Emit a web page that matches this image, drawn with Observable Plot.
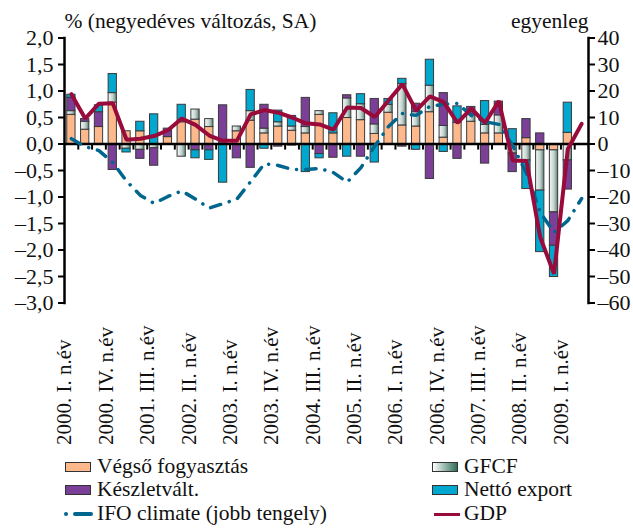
<!DOCTYPE html>
<html>
<head>
<meta charset="utf-8">
<script src="https://cdn.jsdelivr.net/npm/d3@7"></script>
<script src="https://cdn.jsdelivr.net/npm/@observablehq/plot@0.6"></script>
<style>
  body { margin: 0; background: #fff; font-family: "Liberation Serif", serif; }
  #wrap { position: relative; width: 633px; height: 528px; overflow: hidden; }
  .leg { position: absolute; font-size: 21.5px; line-height: 24px; height: 24px; color: #111; white-space: nowrap; }
  .sw { position: absolute; width: 24px; height: 8px; border: 1.5px solid #333; }
</style>
</head>
<body>
<svg width="0" height="0" style="position:absolute">
  <defs>
    <linearGradient id="gfcfGrad" x1="0" x2="1" y1="0" y2="0">
      <stop offset="0" stop-color="#f6f8f7"/>
      <stop offset="0.55" stop-color="#c4d3cf"/>
      <stop offset="1" stop-color="#5b8377"/>
    </linearGradient>
  </defs>
</svg>
<div id="wrap">
  <div id="chart"></div>
  <div id="legend"></div>
</div>
<script>
// ---- data ----
const quarters = [
  "2000. I. n.év","2000. II. n.év","2000. III. n.év","2000. IV. n.év",
  "2001. I. n.év","2001. II. n.év","2001. III. n.év","2001. IV. n.év",
  "2002. I. n.év","2002. II. n.év","2002. III. n.év","2002. IV. n.év",
  "2003. I. n.év","2003. II. n.év","2003. III. n.év","2003. IV. n.év",
  "2004. I. n.év","2004. II. n.év","2004. III. n.év","2004. IV. n.év",
  "2005. I. n.év","2005. II. n.év","2005. III. n.év","2005. IV. n.év",
  "2006. I. n.év","2006. II. n.év","2006. III. n.év","2006. IV. n.év",
  "2007. I. n.év","2007. II. n.év","2007. III. n.év","2007. IV. n.év",
  "2008. I. n.év","2008. II. n.év","2008. III. n.év","2008. IV. n.év",
  "2009. I. n.év","2009. II. n.év"
];
const tickLabels = [
  "2000. I. n.év","2000. IV. n.év","2001. III. n.év","2002. II. n.év",
  "2003. I. n.év","2003. IV. n.év","2004. III. n.év","2005. II. n.év",
  "2006. I. n.év","2006. IV. n.év","2007. III. n.év","2008. II. n.év",
  "2009. I. n.év"
];
const seriesNames = ["Végső fogyasztás", "GFCF", "Készletvált.", "Nettó export"];
const vegso   = [0.55,0.27,0.32,0.78,0.24,0.24,0,0.13,0.41,0.46,0.32,0,0.24,0.44,0.20,0.33,0.25,0.20,0.55,0.20,0.49,0.45,0.19,0.59,0.35,0.33,0.60,0.12,0.40,0.42,0.20,0.20,0,0.11,-0.12,-0.12,0.21,null];
const gfcf    = [0.07,0.15,0,0.18,-0.09,-0.11,-0.08,0,-0.24,0.19,0.15,0,0.09,0.18,0.09,0.08,0.08,0.12,0.07,0,0.37,0.30,0.18,0.15,0.78,0.27,0.50,0.22,0,0.13,0.16,0.34,-0.18,-0.31,-0.76,-1.17,-0.31,null];
const keszlet = [0.25,0.05,0.28,-0.49,0,-0.17,-0.33,0.16,0,-0.12,-0.12,0.73,-0.27,-0.45,0.45,-0.05,-0.03,0.55,-0.19,-0.26,0.06,-0.24,0.48,0,-0.05,0.16,-0.66,0.62,-0.28,0.15,-0.37,0.26,-0.35,0.36,0.20,-0.63,-0.55,null];
const netto   = [0.06,0,0.13,0.36,-0.07,0.18,0.56,0,0.33,-0.15,-0.18,-0.73,0,0.40,-0.09,0.22,0.20,-0.53,-0.08,0.38,-0.24,0.19,-0.35,0.11,0.10,-0.11,0.49,-0.15,0.31,0,0.45,0,0.28,-0.54,-1.16,-0.59,0.57,null];
const gdp     = [0.94,0.48,0.76,0.77,0.08,0.10,0.15,0.26,0.48,0.36,0.16,0.06,0.06,0.56,0.64,0.59,0.50,0.39,0.37,0.27,0.69,0.68,0.51,0.82,1.13,0.63,0.90,0.79,0.40,0.67,0.40,0.81,-0.31,-0.32,-1.76,-2.45,-0.10,0.38];
const ifo     = [2,-1,-2.5,-7,-14,-19.4,-22.4,-19.8,-17.7,-20.8,-24.2,-22.5,-20.8,-14.2,-7.4,-8.1,-9.6,-9.6,-9.2,-10.8,-14.4,-8.9,-0.8,6.6,11.5,10.8,14.2,15,15.3,10.8,8.4,7.4,-0.6,-11,-25.8,-33.4,-28.9,-20.6];
const leftTitle = "% (negyedéves változás, SA)";
const rightTitle = "egyenleg";

// ---- build ----
const seriesArrays = [vegso, gfcf, keszlet, netto];
const seriesColors = ["#fdb98b", "url(#gfcfGrad)", "#7b3f98", "#00a8cf"];
const rows = [];
quarters.forEach((q, i) => {
  seriesArrays.forEach((arr, k) => {
    if (arr[i] != null && arr[i] !== 0) rows.push({q, s: seriesNames[k], v: arr[i]});
  });
});
const lineRows = quarters.map((q, i) => ({q, gdp: gdp[i], ifo: ifo[i] / 20}));

const W = 633, H = 455;
const mL = 64, mR = 45, mT = 37.5, mB = 152.5;
const step = (W - mL - mR) / quarters.length;
const fmtL = d => (d < -1e-9 ? "–" : "") + Math.abs(d).toFixed(1).replace(".", ",");
const fmtR = d => { const v = Math.round(d * 20); return (v < 0 ? "–" : "") + Math.abs(v); };
const yTicks = d3.range(-3, 2.001, 0.5);

const chart = Plot.plot({
  width: W, height: H,
  marginLeft: mL, marginRight: mR, marginTop: mT, marginBottom: mB,
  style: {fontFamily: '"Liberation Serif", serif', fontSize: "21px", color: "#111", background: "white", overflow: "visible"},
  x: {type: "band", domain: quarters, paddingInner: 0.4, paddingOuter: 0.2, round: false, axis: null},
  y: {domain: [-3, 2], axis: null},
  color: {domain: seriesNames, range: seriesColors},
  marks: [
    Plot.barY(rows, Plot.stackY({x: "q", y: "v", fill: "s", order: seriesNames, stroke: "#3a3a3a", strokeWidth: 1})),
    Plot.ruleY([0], {stroke: "#000", strokeWidth: 2.5}),
    Plot.ruleX(quarters.slice(1), {x: d => d, y1: 0, y2: -0.115, dx: -step / 2, stroke: "#000", strokeWidth: 2}),
    Plot.line(lineRows, {x: "q", y: "ifo", stroke: "#00668e", strokeWidth: 3.5, strokeDasharray: "10.5 9 0.1 9", strokeLinecap: "round"}),
    Plot.line(lineRows, {x: "q", y: "gdp", stroke: "#990b3b", strokeWidth: 4, strokeLinejoin: "miter"}),
    Plot.axisY({anchor: "left", ticks: yTicks, tickFormat: fmtL, tickSize: 6, tickPadding: 5, strokeWidth: 2, stroke: "#000", fontSize: 22, label: null}),
    Plot.axisY({anchor: "right", ticks: yTicks, tickFormat: fmtR, tickSize: 6, tickPadding: 3, strokeWidth: 2, stroke: "#000", fontSize: 22, label: null}),
    Plot.frame({anchor: "left", stroke: "#000", strokeWidth: 2.5}),
    Plot.frame({anchor: "right", stroke: "#000", strokeWidth: 2.5}),
    Plot.text(tickLabels, {x: d => d, text: d => d, frameAnchor: "bottom", rotate: -90, textAnchor: "start", dy: 142, fill: "#111"}),
    Plot.text([leftTitle], {text: d => d, frameAnchor: "top-left", textAnchor: "start", lineAnchor: "bottom", dy: -10, fill: "#111", fontSize: 21.5}),
    Plot.text([rightTitle], {text: d => d, frameAnchor: "top-right", textAnchor: "end", lineAnchor: "bottom", dy: -10, fill: "#111", fontSize: 21.5})
  ]
});
document.getElementById("chart").appendChild(chart);

// ---- legend (HTML, below the SVG) ----
const legend = document.getElementById("legend");
const items = [
  {label: "Végső fogyasztás", kind: "box", bg: "#fdb98b", x: 65, y: 467},
  {label: "Készletvált.", kind: "box", bg: "#7b3f98", x: 65, y: 490},
  {label: "IFO climate (jobb tengely)", kind: "dashdot", color: "#00668e", x: 65, y: 514},
  {label: "GFCF", kind: "box", bg: "linear-gradient(to right, #ffffff, #2f6e5a)", x: 432, y: 467},
  {label: "Nettó export", kind: "box", bg: "#00a8cf", x: 432, y: 490},
  {label: "GDP", kind: "line", color: "#990b3b", x: 432, y: 514}
];
for (const it of items) {
  if (it.kind === "box") {
    const s = document.createElement("div");
    s.className = "sw";
    s.style.left = it.x + "px";
    s.style.top = (it.y - 5.5) + "px";
    s.style.background = it.bg;
    legend.appendChild(s);
  } else if (it.kind === "dashdot") {
    const dot = document.createElement("div");
    Object.assign(dot.style, {position: "absolute", left: (it.x - 1) + "px", top: (it.y - 2) + "px", width: "4px", height: "4px", borderRadius: "50%", background: it.color});
    legend.appendChild(dot);
    const dash = document.createElement("div");
    Object.assign(dash.style, {position: "absolute", left: (it.x + 8) + "px", top: (it.y - 2) + "px", width: "20px", height: "4px", borderRadius: "2px", background: it.color});
    legend.appendChild(dash);
  } else {
    const ln = document.createElement("div");
    Object.assign(ln.style, {position: "absolute", left: (it.x + 2) + "px", top: (it.y - 1.5) + "px", width: "26px", height: "3px", background: it.color});
    legend.appendChild(ln);
  }
  const t = document.createElement("div");
  t.className = "leg";
  t.style.left = (it.x + 32) + "px";
  t.style.top = (it.y - 13) + "px";
  t.textContent = it.label;
  legend.appendChild(t);
}
</script>
</body>
</html>
